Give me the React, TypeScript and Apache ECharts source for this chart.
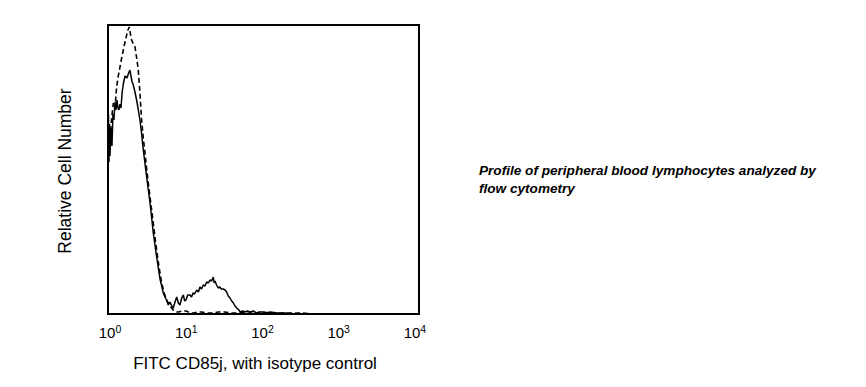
import React, { useEffect, useRef } from "react";
import * as echarts from "echarts";

// x = log10(fluorescence), y = relative cell number
const cd85jCurve: [number, number][] = [
  [-0.026, 150], [-0.02, 200], [-0.013, 152], [-0.006, 190], [0.0, 158], [0.013, 186],
  [0.026, 168], [0.039, 200], [0.052, 194], [0.066, 212], [0.079, 204], [0.092, 214],
  [0.105, 206], [0.118, 204], [0.131, 210], [0.144, 206], [0.16, 222], [0.175, 230],
  [0.197, 238], [0.223, 236], [0.249, 242], [0.262, 244], [0.275, 238], [0.29, 232],
  [0.302, 230], [0.328, 222], [0.354, 212], [0.372, 204], [0.393, 194], [0.415, 180],
  [0.437, 164], [0.46, 150], [0.481, 137], [0.503, 124], [0.525, 111], [0.547, 96],
  [0.568, 81], [0.59, 69], [0.612, 57], [0.634, 46], [0.656, 35], [0.678, 28],
  [0.699, 21], [0.721, 17], [0.743, 14], [0.765, 9], [0.787, 12], [0.809, 8],
  [0.83, 6], [0.853, 12], [0.875, 17], [0.897, 11], [0.918, 9], [0.94, 16],
  [0.961, 19], [0.98, 13], [0.997, 14], [1.02, 19], [1.049, 19], [1.07, 17],
  [1.089, 21], [1.11, 20], [1.137, 24], [1.16, 22], [1.18, 27], [1.2, 25],
  [1.224, 29], [1.246, 28], [1.268, 32], [1.29, 31], [1.311, 34], [1.333, 33],
  [1.355, 37], [1.366, 31], [1.377, 33], [1.398, 29], [1.42, 26], [1.44, 27],
  [1.46, 25], [1.486, 25], [1.51, 24], [1.53, 22], [1.551, 18], [1.574, 16],
  [1.596, 13], [1.618, 11], [1.64, 8], [1.662, 6], [1.69, 4], [1.71, 2],
  [1.74, 3], [1.77, 2], [1.8, 3], [1.84, 2], [1.88, 3], [1.92, 1], [1.96, 2],
  [2.0, 2], [2.05, 1], [2.1, 2], [2.2, 1], [2.3, 1], [2.4, 0], [2.6, 0],
  [3.0, 0], [3.5, 0], [4.053, 0]
];

const isotypeCurve: [number, number][] = [
  [0.0, 175], [0.022, 196], [0.044, 211], [0.066, 206], [0.087, 227], [0.109, 238],
  [0.131, 247], [0.153, 256], [0.175, 264], [0.197, 272], [0.219, 279], [0.236, 284],
  [0.253, 287], [0.268, 280], [0.284, 274], [0.306, 270], [0.328, 267], [0.35, 256],
  [0.371, 244], [0.393, 221], [0.415, 194], [0.437, 176], [0.459, 161], [0.481, 145],
  [0.503, 131], [0.535, 111], [0.568, 91], [0.59, 77], [0.612, 64], [0.645, 46],
  [0.678, 31], [0.71, 21], [0.743, 14], [0.787, 8], [0.83, 4], [0.87, 2],
  [0.9, 2], [0.95, 3], [1.0, 3], [1.05, 1], [1.1, 1], [1.15, 2], [1.2, 2],
  [1.27, 1], [1.35, 1], [1.42, 2], [1.5, 2], [1.6, 1], [1.7, 1], [1.78, 2],
  [1.85, 2], [1.92, 1], [2.0, 2], [2.1, 1], [2.2, 1], [2.35, 1], [2.5, 1],
  [2.7, 0], [3.0, 0], [3.5, 0], [4.053, 0]
];

const decades = [0, 1, 2, 3, 4];
const xAxisTitle = "FITC CD85j, with isotype control";
const yAxisTitle = "Relative Cell Number";
const noteLines = ["Profile of peripheral blood lymphocytes analyzed by", "flow cytometry"];

const FONT = "'Liberation Sans', Arial, Helvetica, sans-serif";

export default function App() {
  const ref = useRef<HTMLDivElement>(null);

  useEffect(() => {
    if (!ref.current) return;
    const chart = echarts.init(ref.current, null, { renderer: "svg" });
    chart.setOption({
      animation: false,
      backgroundColor: "#ffffff",
      grid: {
        left: 108,
        right: 866 - 419,
        top: 25,
        bottom: 387 - 314,
        show: true,
        borderColor: "#000",
        borderWidth: 2,
        backgroundColor: "transparent",
      },
      xAxis: {
        type: "value",
        min: -0.026,
        max: 4.053,
        axisLine: { show: false },
        axisTick: { show: false },
        splitLine: { show: false },
        axisLabel: {
          customValues: decades,
          margin: 9,
          formatter: (v: number) => `{b|10}{s|${Math.round(v)}}`,
          rich: {
            b: { fontSize: 15, fontFamily: FONT, color: "#000", lineHeight: 19 },
            s: { fontSize: 10.5, fontFamily: FONT, color: "#000", verticalAlign: "top", lineHeight: 10 },
          },
        },
      },
      yAxis: {
        type: "value",
        min: 0,
        max: 289,
        axisLine: { show: false },
        axisTick: { show: false },
        axisLabel: { show: false },
        splitLine: { show: false },
      },
      series: [
        {
          type: "line",
          data: isotypeCurve,
          showSymbol: false,
          lineStyle: { color: "#000", width: 1.6, type: [5, 3] },
          z: 2,
        },
        {
          type: "line",
          data: cd85jCurve,
          showSymbol: false,
          lineStyle: { color: "#000", width: 1.5 },
          z: 3,
        },
      ],
      graphic: [
        {
          type: "text",
          x: 255,
          y: 363,
          style: {
            text: xAxisTitle,
            font: `17px ${FONT}`,
            fill: "#000",
            align: "center",
            verticalAlign: "middle",
          },
        },
        {
          type: "text",
          x: 65,
          y: 171,
          rotation: Math.PI / 2,
          style: {
            text: yAxisTitle,
            font: `17.5px ${FONT}`,
            fill: "#000",
            align: "center",
            verticalAlign: "middle",
          },
        },
        {
          type: "text",
          x: 479,
          y: 161,
          style: {
            text: noteLines.join("\n"),
            font: `italic bold 13.6px ${FONT}`,
            fill: "#000",
            align: "left",
            verticalAlign: "top",
            lineHeight: 18,
          },
        },
      ],
    });
    return () => chart.dispose();
  }, []);

  return (
    <div
      ref={ref}
      style={{ position: "absolute", left: 0, top: 0, width: 866, height: 387 }}
    />
  );
}
